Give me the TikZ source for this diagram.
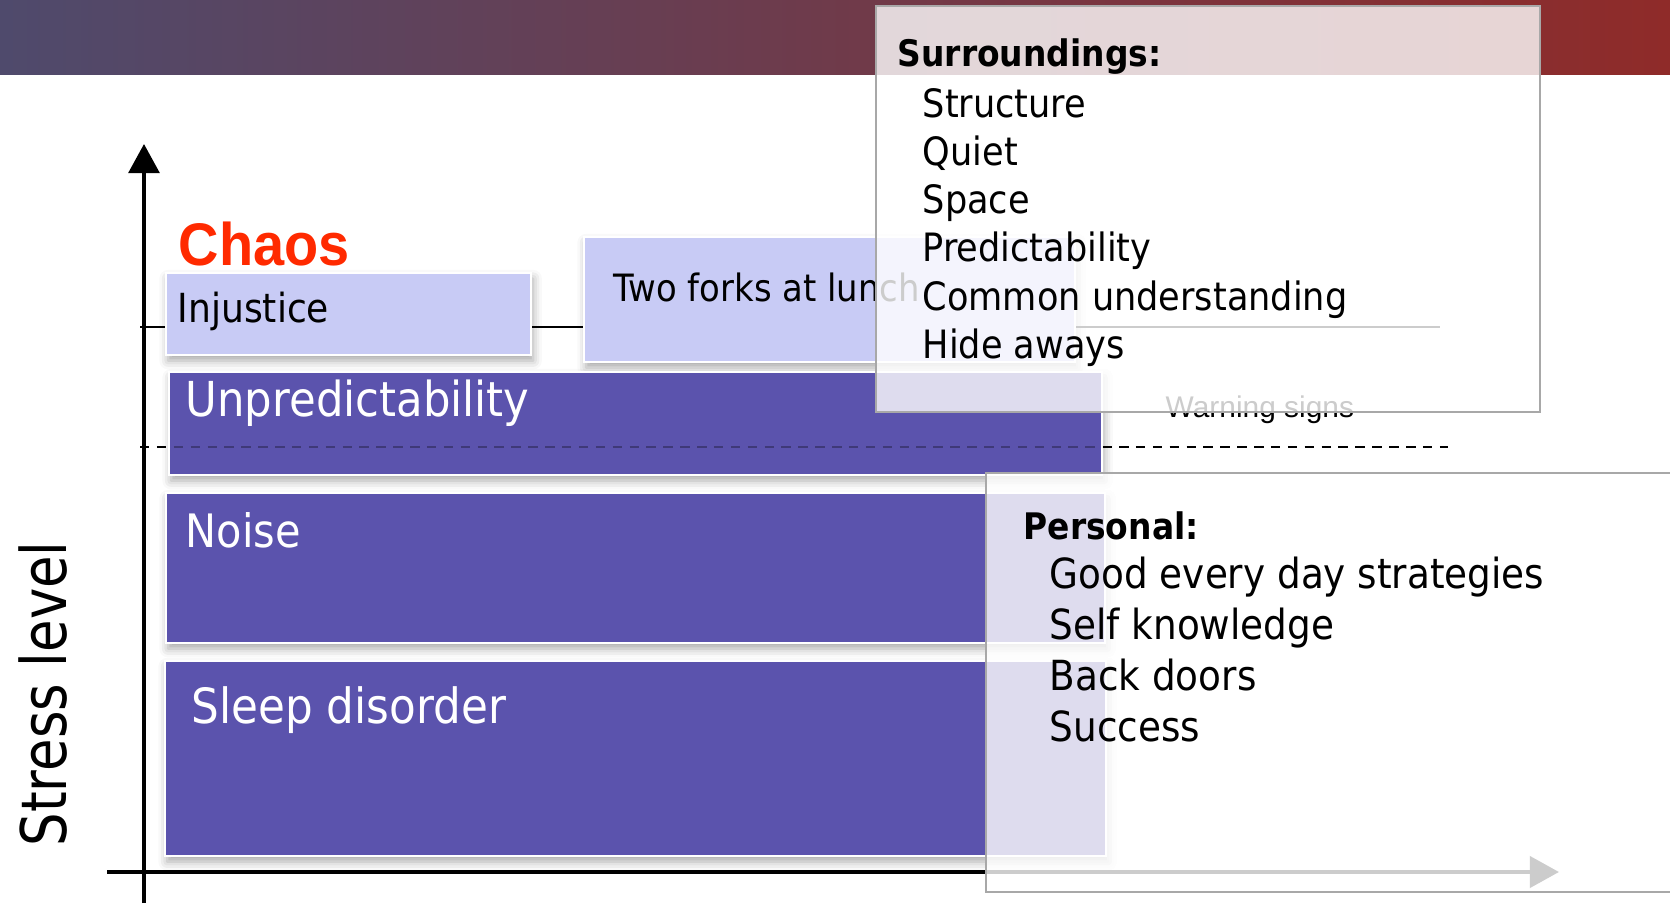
\documentclass[tikz,border=0pt]{standalone}
\usepackage{fontspec}
\usetikzlibrary{arrows.meta,fit,shadows.blur}
\newfontfamily\bodyfont[FakeStretch=0.9]{DejaVu Sans}
\newfontfamily\axisfont[FakeStretch=0.84]{DejaVu Sans}
\newfontfamily\chaosfont[FakeStretch=0.93]{Liberation Sans}
\newfontfamily\notefont{Liberation Sans}
\definecolor{barleft}{RGB}{79,74,108}
\definecolor{barright}{RGB}{143,43,41}
\definecolor{stressdark}{RGB}{91,83,173}
\definecolor{stresslight}{RGB}{200,203,245}
\definecolor{chaosred}{RGB}{255,42,0}
\definecolor{framegray}{RGB}{168,168,168}
\tikzset{
  level/.style={draw=white, line width=0.8pt, inner sep=0pt, outer sep=0pt,
    blur shadow={shadow xshift=0.6pt, shadow yshift=-1.6pt, shadow blur radius=2.5pt, shadow opacity=35}},
  darklevel/.style={level, fill=stressdark},
  lightlevel/.style={level, fill=stresslight},
  levellabel/.style={anchor=base west, inner sep=0pt, font=\bodyfont\fontsize{#1}{#1}\selectfont},
  helpbox/.style={draw=framegray, line width=0.7pt, fill=white, fill opacity=0.8, inner sep=0pt, outer sep=0pt},
  helptext/.style={anchor=base west, inner sep=0pt, font=\bodyfont\fontsize{#1}{#1}\selectfont},
  axistip/.style={-{Triangle[length=8.3pt, width=8.8pt]}},
  warnline/.style={line width=0.75pt, dash pattern=on 2.7pt off 2.1pt}
}

\begin{document}
\begin{tikzpicture}[x=0.01cm, y=-0.01cm]
\useasboundingbox (0,0) rectangle (1670,903);
\clip (0,0) rectangle (1670,903);
\shade[left color=barleft, right color=barright] (0,0) rectangle (1670,74);

\coordinate (solidstart) at (140,327);
\coordinate (solidend) at (1440,327);
\coordinate (dashstart) at (140,447);
\coordinate (dashend) at (1448,447);
\draw[line width=0.8pt] (solidstart) -- (solidend);
\draw[warnline] (dashstart) -- (dashend);
\draw[line width=1pt, axistip] (144,903) -- (144,144);
\draw[line width=1.3pt, axistip] (107,872) -- (1559,872);

\node[lightlevel, fit={(166,273) (531,355)}] (injustice) {};
\node[lightlevel, fit={(584,237) (1075,362)}] (forks) {};
\node[darklevel, fit={(169,372) (1102,475)}] (unpred) {};
\node[darklevel, fit={(166,493) (1105,643)}] (noise) {};
\node[darklevel, fit={(165,661) (1106,856)}] (sleep) {};
\begin{scope}
\clip (unpred.north west) rectangle (unpred.south east);
\draw[warnline, draw opacity=0.3] (dashstart) -- (dashend);
\end{scope}

\node[levellabel=11.4] at (177,322) {Injustice};
\node[levellabel=10.7] at (613,301) {Two forks at lunch};
\node[levellabel=13.7, text=white] at (185,416) {Unpredictability};
\node[levellabel=13.1, text=white] at (185,547) {Noise};
\node[levellabel=13.8, text=white] at (191,723) {Sleep disorder};
\node[anchor=base west, inner sep=0pt, text=chaosred, font=\chaosfont\bfseries\fontsize{17.1}{17.1}\selectfont] (chaos) at (178,265) {Chaos};
\node[anchor=base west, inner sep=0pt, rotate=90, font=\axisfont\fontsize{17.9}{17.9}\selectfont] (stress) at (66,847) {Stress level};
\node[anchor=base west, inner sep=0pt, font=\notefont\fontsize{8.5}{8.5}\selectfont] (warning) at (1165,417) {Warning signs};

\node[helpbox, fit={(876,6) (1540,412)}] (surround) {};
\node[helptext=10.4] at (897,67) {\bfseries Surroundings:};
\foreach \entry [count=\i from 0] in {Structure, Quiet, Space, Predictability, Common understanding, Hide aways}
  \node[helptext=11.1] at (922,{117+48.3*\i}) {\entry};

\node[helpbox, fit={(986,473) (1700,892)}] (personal) {};
\node[helptext=10.4] at (1023,539) {\bfseries Personal:};
\foreach \entry [count=\i from 0] in {Good every day strategies, Self knowledge, Back doors, Success}
  \node[helptext=11.8] at (1049,{588+51.3*\i}) {\entry};
\end{tikzpicture}
\end{document}
